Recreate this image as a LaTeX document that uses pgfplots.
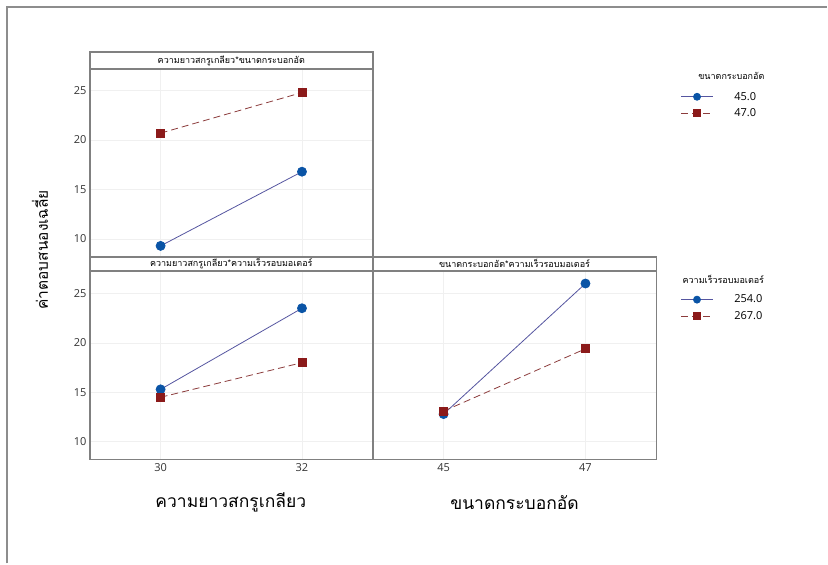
\documentclass[border=0pt]{standalone}
\usepackage{fontspec}
\usepackage{pgfplots}
\pgfplotsset{compat=1.18}
\setmainfont{Open Sans}
\newfontfamily\thai[Script=Thai]{Loma}
\definecolor{mblue}{RGB}{10,84,166}
\definecolor{lblue}{RGB}{85,85,160}
\definecolor{mred}{RGB}{139,26,26}
\definecolor{lred}{RGB}{140,60,60}
\definecolor{frame}{RGB}{128,128,128}
\pgfplotsset{
  panel/.style={scale only axis, anchor=south west,
    axis line style={draw=frame, line width=1.8pt},
    grid=major, major grid style={gray!12, line width=0.6pt},
    major tick length=0pt,
    tick label style={font=\fontsize{11}{13}\selectfont, text=black!80},
    /pgf/number format/assume math mode=true,
    ytick={10,15,20,25},
    clip=false,
    legend cell align=left,
    legend style={draw=none, fill=none, anchor=north west, font=\fontsize{11}{13}\selectfont,
      row sep=5pt, column sep=20pt, nodes={inner sep=1pt}},
    legend image code/.code={\draw[mark repeat=2,mark phase=2,mark size=3.5pt,##1] plot coordinates {(0pt,0pt) (16pt,0pt) (32pt,0pt)};},
  },
  bl/.style={lblue, line width=0.8pt, mark=*, mark size=4.5pt, mark options={fill=mblue, draw=mblue, solid}},
  rd/.style={lred, line width=0.8pt, dash pattern=on 7pt off 4pt, mark=square*, mark size=4pt, mark options={fill=mred, draw=mred, solid}},
}
\begin{document}
\begin{tikzpicture}[x=1pt,y=1pt]
\path[fill=white] (0,0) rectangle (828,564);
\draw[frame!90, line width=1.5pt] (7,0) -- (7,557) -- (828,557);

\begin{axis}[panel, at={(90pt,307pt)}, width=283pt, height=188pt,
  xmin=29, xmax=33, ymin=8.2, ymax=27.19, xtick={30,32}, xticklabels={},
  legend style={at={(2.078,0.894)}}]
\addplot[bl] coordinates {(30,9.3) (32,16.8)};
\addplot[rd] coordinates {(30,20.7) (32,24.8)};
\legend{45.0,47.0}
\end{axis}

\begin{axis}[panel, at={(90pt,104pt)}, width=283pt, height=189pt,
  xmin=29, xmax=33, ymin=8.2, ymax=27.29, xtick={30,32}]
\addplot[bl] coordinates {(30,15.3) (32,23.5)};
\addplot[rd] coordinates {(30,14.5) (32,18.0)};
\end{axis}

\begin{axis}[panel, at={(373pt,104pt)}, width=284pt, height=189pt,
  xmin=44, xmax=48, ymin=8.2, ymax=27.29, xtick={45,47}, yticklabels={},
  legend style={at={(1.074,0.889)}}]
\addplot[bl] coordinates {(45,12.8) (47,26.0)};
\addplot[rd] coordinates {(45,13.1) (47,19.4)};
\legend{254.0,267.0}
\end{axis}

% panel headers
\draw[frame, line width=1.8pt, fill=white] (90,495) rectangle (373,512);
\node[font=\thai\fontsize{9}{10}\selectfont] at (231.5,503.5) {ความยาวสกรูเกลียว*ขนาดกระบอกอัด};
\draw[frame, line width=1.8pt, fill=white] (90,293) rectangle (373,307);
\node[font=\thai\fontsize{9}{10}\selectfont] at (231.5,300) {ความยาวสกรูเกลียว*ความเร็วรอบมอเตอร์};
\draw[frame, line width=1.8pt, fill=white] (373,293) rectangle (657,307);
\node[font=\thai\fontsize{9}{10}\selectfont] at (515,300) {ขนาดกระบอกอัด*ความเร็วรอบมอเตอร์};

% legend titles
\node[font=\thai\fontsize{9}{10}\selectfont] at (732,488) {ขนาดกระบอกอัด};
\node[font=\thai\fontsize{9}{10}\selectfont] at (724,284) {ความเร็วรอบมอเตอร์};

% axis labels
\node[font=\thai\fontsize{17.5}{19}\selectfont] at (231,61) {ความยาวสกรูเกลียว};
\node[font=\thai\fontsize{17.5}{19}\selectfont] at (515,61) {ขนาดกระบอกอัด};
\node[font=\thai\fontsize{15.5}{18}\selectfont, rotate=90] at (40,314) {ค่าตอบสนองเฉลี่ย};
\end{tikzpicture}
\end{document}
